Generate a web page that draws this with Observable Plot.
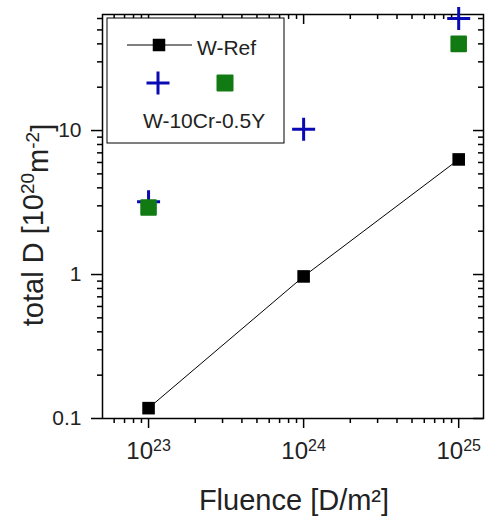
<!DOCTYPE html>
<html><head><meta charset="utf-8">
<script src="https://cdn.jsdelivr.net/npm/d3@7"></script>
<script src="https://cdn.jsdelivr.net/npm/@observablehq/plot@0.6"></script>
<style>
body{margin:0;background:#fff}
svg{font-family:Arial,"Liberation Sans",sans-serif}
</style>
</head><body><div id="chart"></div>
<script>
// ---- data ----
const fluence = [1e23, 1e24, 1e25];
const wRef = [0.118, 0.97, 6.3];
const w10CrPlus = [3.2, 10.2, 60];
const w10CrSquareFluence = [1e23, 1e25];
const w10CrSquare = [2.92, 40];
const xMajorTicks = [1e23, 1e24, 1e25];
const xTickExponents = ["23", "24", "25"];
const yMajorTicks = [0.1, 1, 10];
const yTickLabels = ["0.1", "1", "10"];
const legendLabels = ["W-Ref", "W-10Cr-0.5Y"];
const xTitle = "Fluence [D/m²]";

// ---- layout ----
const W = 487, H = 516, ML = 102, MR = 4, MT = 14, MB = 98;
const PW = W - ML - MR, PH = H - MT - MB;
const xDomain = [Math.pow(10, 22.703), Math.pow(10, 25.16)];
const yDomain = [0.1, Math.pow(10, 1.806)];
const blue = "#0a0ab4", green = "#127a12";

function minorTicks(domain, decades) {
  const out = [];
  for (const e of decades) for (let m = 2; m <= 9; m++) {
    const v = m * Math.pow(10, e);
    if (v >= domain[0] && v <= domain[1]) out.push(v);
  }
  return out;
}
const xMinor = minorTicks(xDomain, [22, 23, 24, 25]);
const yMinor = minorTicks(yDomain, [-1, 0, 1]);

const refData = fluence.map((f, i) => ({f, v: wRef[i]}));
const plusData = fluence.map((f, i) => ({f, v: w10CrPlus[i]}));
const sqData = w10CrSquareFluence.map((f, i) => ({f, v: w10CrSquare[i]}));

const plusSymbol = {draw(ctx, size) {
  const r = Math.sqrt(size / Math.PI);
  ctx.moveTo(-r, 0); ctx.lineTo(r, 0);
  ctx.moveTo(0, -r); ctx.lineTo(0, r);
}};

const chart = Plot.plot({
  width: W, height: H,
  marginLeft: ML, marginRight: MR, marginTop: MT, marginBottom: MB,
  style: {fontFamily: 'Arial, "Liberation Sans", sans-serif', color: "#000", background: "#fff"},
  x: {type: "log", domain: xDomain, label: null},
  y: {type: "log", domain: yDomain, label: null},
  marks: [
    Plot.axisX(xMinor, {tickSize: 5, tickFormat: () => "", strokeWidth: 1.5, label: null}),
    Plot.axisX(xMajorTicks, {tickSize: 10, tickPadding: 13, fontSize: 24, strokeWidth: 1.5, label: null,
      tickFormat: d => xTickExponents[xMajorTicks.indexOf(d)]}),
    Plot.axisY(yMinor, {tickSize: 5, tickFormat: () => "", strokeWidth: 1.5, label: null}),
    Plot.axisY(yMajorTicks, {tickSize: 11, tickPadding: 10, fontSize: 21, strokeWidth: 1.5, label: null,
      tickFormat: d => yTickLabels[yMajorTicks.indexOf(d)]}),
    Plot.tickX(xMajorTicks, {x: d => d, insetBottom: PH - 10, stroke: "#000", strokeWidth: 1.5}),
    Plot.tickX(xMinor, {x: d => d, insetBottom: PH - 5, stroke: "#000", strokeWidth: 1.5}),
    Plot.tickY(yMajorTicks, {y: d => d, insetLeft: PW - 10, stroke: "#000", strokeWidth: 1.5}),
    Plot.tickY(yMinor, {y: d => d, insetLeft: PW - 5, stroke: "#000", strokeWidth: 1.5}),
    Plot.frame({stroke: "#000", strokeWidth: 1.5}),
    Plot.line(refData, {x: "f", y: "v", stroke: "#000", strokeWidth: 1}),
    Plot.dot(refData, {x: "f", y: "v", symbol: "square", r: 7.1, fill: "#000", stroke: "none"}),
    Plot.dot(plusData, {x: "f", y: "v", symbol: plusSymbol, r: 11.5, fill: "none", stroke: blue, strokeWidth: 3}),
    Plot.dot(sqData, {x: "f", y: "v", symbol: "square", r: 8.2, fill: green, stroke: green, strokeWidth: 2, strokeLinejoin: "round"})
  ]
});
document.getElementById("chart").appendChild(chart);

const svg = d3.select(chart);
// tick label sizes and superscript exponents on x tick labels
svg.selectAll('g[aria-label="y-axis tick label"] text').style("font-size", "21px").style("fill", "#222");
svg.selectAll('g[aria-label="x-axis tick label"] text').style("font-size", "24px").style("fill", "#222");
svg.selectAll('g[aria-label="x-axis tick label"] text').each(function() {
  const t = this.textContent;
  if (!t) return;
  const sel = d3.select(this);
  sel.text(null);
  sel.append("tspan").text("10");
  sel.append("tspan").attr("dy", "-0.45em").style("font-size", "16px").text(t);
});

function txt(g, x, y, size, anchor) {
  return g.append("text").attr("x", x).attr("y", y)
    .style("font-size", size + "px").style("text-anchor", anchor).style("fill", "#222");
}
// axis titles
txt(svg, 294, 510, 29, "middle").text(xTitle);
const yt = svg.append("text").attr("transform", "translate(43,225) rotate(-90)")
  .style("text-anchor", "middle").style("font-size", "29px").style("fill", "#222");
yt.append("tspan").text("total D [10");
yt.append("tspan").attr("dy", "-0.45em").style("font-size", "19px").text("20");
yt.append("tspan").attr("dy", "0.45em").text("m");
yt.append("tspan").attr("dy", "-0.45em").style("font-size", "19px").text("-2");
yt.append("tspan").attr("dy", "0.45em").text("]");

// legend
const lg = svg.append("g");
lg.append("rect").attr("x", 107).attr("y", 18).attr("width", 177).attr("height", 125)
  .attr("fill", "#fff").attr("stroke", "#000").attr("stroke-width", 1);
lg.append("line").attr("x1", 127).attr("x2", 192).attr("y1", 45).attr("y2", 45)
  .attr("stroke", "#000").attr("stroke-width", 1);
lg.append("rect").attr("x", 159 - 6.25).attr("y", 45 - 6.25).attr("width", 12.5).attr("height", 12.5).attr("fill", "#000");
txt(lg, 197, 55, 21, "start").text(legendLabels[0]);
lg.append("path").attr("d", "M146.5,83H169.5M158,71.5V94.5").attr("stroke", blue).attr("stroke-width", 3).attr("fill", "none");
lg.append("rect").attr("x", 225 - 7.5).attr("y", 83 - 7.5).attr("width", 15).attr("height", 15)
  .attr("fill", green).attr("stroke", green).attr("stroke-width", 2).attr("stroke-linejoin", "round");
txt(lg, 143, 128, 21, "start").text(legendLabels[1]);
</script>
</body></html>
